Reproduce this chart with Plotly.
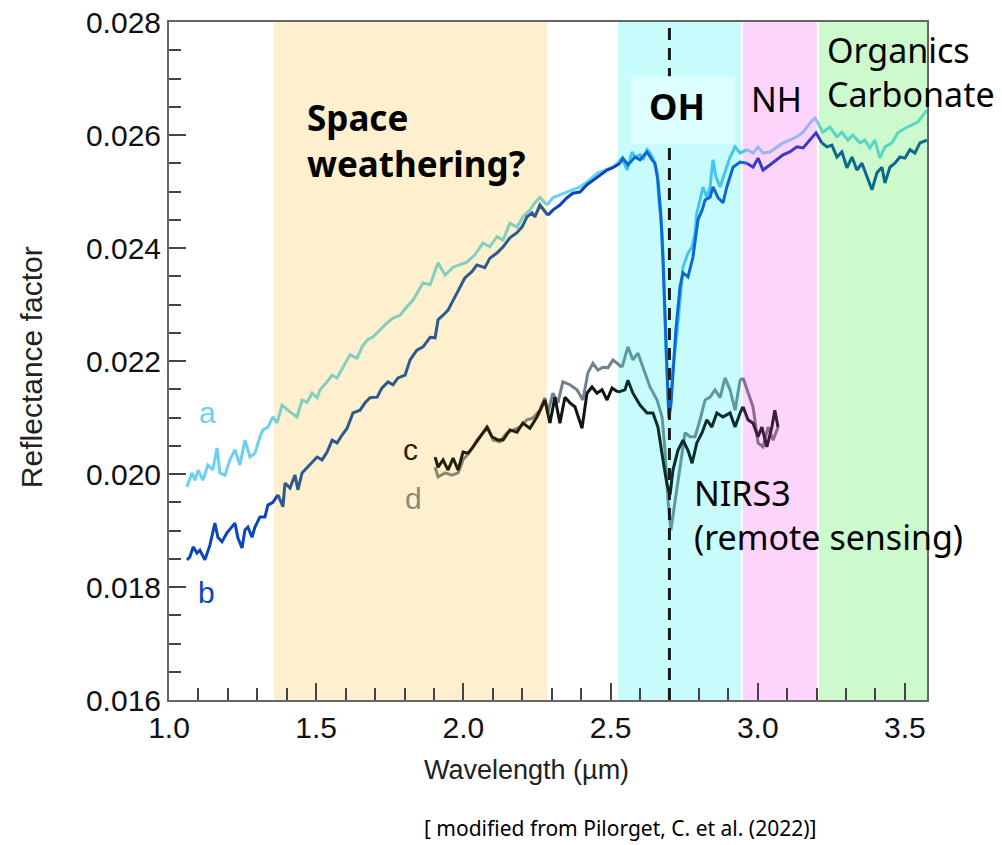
import plotly.graph_objects as go

# ---- spectra: wavelength (um) and reflectance factor ----
a_wl = [1.061, 1.078, 1.088, 1.099, 1.115, 1.132, 1.149, 1.163, 1.173, 1.190, 1.207, 1.224, 1.241, 1.258,
        1.275, 1.292, 1.309, 1.319, 1.336, 1.353, 1.367, 1.384, 1.411, 1.435, 1.452, 1.469, 1.486, 1.503,
        1.513, 1.537, 1.554, 1.571, 1.591, 1.615, 1.639, 1.656, 1.673, 1.693, 1.717, 1.740, 1.761, 1.785,
        1.808, 1.829, 1.863, 1.887, 1.914, 1.938, 1.965, 2.012, 2.039, 2.067, 2.090, 2.114, 2.135, 2.158,
        2.182, 2.202, 2.226, 2.243, 2.260, 2.284, 2.304, 2.328, 2.352, 2.372, 2.396, 2.420, 2.440, 2.457,
        2.481, 2.505, 2.525, 2.539, 2.556, 2.573, 2.583, 2.600, 2.610, 2.624, 2.634, 2.644, 2.658, 2.664,
        2.675, 2.681, 2.688, 2.695, 2.698, 2.705, 2.712, 2.726, 2.736, 2.746, 2.763, 2.777, 2.787, 2.793,
        2.804, 2.814, 2.827, 2.838, 2.848, 2.858, 2.872, 2.889, 2.906, 2.923, 2.940, 2.963, 2.984, 3.001,
        3.018, 3.041, 3.065, 3.086, 3.109, 3.133, 3.154, 3.177, 3.194, 3.205, 3.221, 3.245, 3.269, 3.286,
        3.306, 3.323, 3.347, 3.364, 3.381, 3.398, 3.415, 3.432, 3.456, 3.476, 3.500, 3.524, 3.544, 3.575]
a_val = [0.01977, 0.02002, 0.01989, 0.02007, 0.01989, 0.02016, 0.02007, 0.02046, 0.02002, 0.01998,
         0.02025, 0.02043, 0.02016, 0.02060, 0.02030, 0.02037, 0.02066, 0.02078, 0.02083, 0.02101,
         0.02090, 0.02122, 0.02110, 0.02101, 0.02131, 0.02127, 0.02143, 0.02135, 0.02149, 0.02163,
         0.02175, 0.02170, 0.02189, 0.02211, 0.02205, 0.02225, 0.02237, 0.02243, 0.02255, 0.02267,
         0.02276, 0.02281, 0.02296, 0.02308, 0.02338, 0.02335, 0.02374, 0.02352, 0.02366, 0.02375,
         0.02388, 0.02409, 0.02402, 0.02420, 0.02414, 0.02444, 0.02437, 0.02455, 0.02467, 0.02480,
         0.02490, 0.02476, 0.02489, 0.02494, 0.02499, 0.02503, 0.02508, 0.02517, 0.02526, 0.02533,
         0.02538, 0.02543, 0.02550, 0.02559, 0.02538, 0.02570, 0.02561, 0.02565, 0.02556, 0.02574,
         0.02568, 0.02559, 0.02533, 0.02485, 0.02427, 0.02356, 0.02220, 0.02143, 0.02108, 0.02131,
         0.02189, 0.02250, 0.02308, 0.02366, 0.02391, 0.02402, 0.02427, 0.02462, 0.02485, 0.02508,
         0.02490, 0.02508, 0.02556, 0.02526, 0.02508, 0.02533, 0.02561, 0.02579, 0.02568, 0.02574,
         0.02568, 0.02579, 0.02568, 0.02570, 0.02579, 0.02586, 0.02591, 0.02597, 0.02605, 0.02621,
         0.02630, 0.02621, 0.02605, 0.02614, 0.02597, 0.02605, 0.02591, 0.02600, 0.02586, 0.02591,
         0.02577, 0.02591, 0.02559, 0.02579, 0.02586, 0.02604, 0.02612, 0.02618, 0.02623, 0.02644]

b_wl = [1.061, 1.071, 1.082, 1.095, 1.105, 1.122, 1.139, 1.156, 1.166, 1.180, 1.197, 1.214, 1.224, 1.234,
        1.248, 1.258, 1.268, 1.282, 1.292, 1.309, 1.326, 1.336, 1.353, 1.370, 1.387, 1.394, 1.411, 1.428,
        1.438, 1.452, 1.469, 1.486, 1.503, 1.520, 1.537, 1.554, 1.571, 1.588, 1.605, 1.625, 1.649, 1.666,
        1.683, 1.707, 1.723, 1.744, 1.761, 1.778, 1.802, 1.819, 1.842, 1.863, 1.887, 1.904, 1.914, 1.931,
        1.948, 1.971, 1.988, 2.005, 2.029, 2.046, 2.073, 2.090, 2.114, 2.135, 2.158, 2.182, 2.199, 2.216,
        2.233, 2.243, 2.260, 2.287, 2.304, 2.328, 2.352, 2.372, 2.396, 2.420, 2.440, 2.464, 2.488, 2.508,
        2.532, 2.542, 2.559, 2.583, 2.600, 2.624, 2.641, 2.651, 2.661, 2.671, 2.678, 2.685, 2.692, 2.698,
        2.705, 2.712, 2.722, 2.736, 2.746, 2.763, 2.780, 2.797, 2.811, 2.821, 2.838, 2.848, 2.865, 2.882,
        2.895, 2.916, 2.940, 2.963, 2.984, 3.001, 3.018, 3.041, 3.065, 3.086, 3.109, 3.133, 3.154, 3.177,
        3.198, 3.218, 3.235, 3.252, 3.269, 3.286, 3.303, 3.320, 3.337, 3.354, 3.371, 3.388, 3.405, 3.422,
        3.432, 3.449, 3.466, 3.483, 3.500, 3.517, 3.534, 3.551, 3.575]
b_val = [0.01848, 0.01853, 0.01871, 0.01860, 0.01865, 0.01848, 0.01874, 0.01913, 0.01888, 0.01880,
         0.01896, 0.01906, 0.01913, 0.01887, 0.01869, 0.01901, 0.01906, 0.01888, 0.01906, 0.01924,
         0.01924, 0.01945, 0.01950, 0.01963, 0.01942, 0.01984, 0.01975, 0.01998, 0.01972, 0.02002,
         0.02011, 0.02021, 0.02030, 0.02025, 0.02039, 0.02060, 0.02055, 0.02069, 0.02081, 0.02108,
         0.02113, 0.02126, 0.02135, 0.02136, 0.02152, 0.02163, 0.02158, 0.02170, 0.02175, 0.02202,
         0.02219, 0.02225, 0.02242, 0.02241, 0.02273, 0.02281, 0.02290, 0.02313, 0.02331, 0.02347,
         0.02358, 0.02370, 0.02365, 0.02382, 0.02391, 0.02402, 0.02418, 0.02427, 0.02437, 0.02455,
         0.02462, 0.02455, 0.02476, 0.02458, 0.02467, 0.02476, 0.02489, 0.02497, 0.02499, 0.02512,
         0.02520, 0.02529, 0.02538, 0.02542, 0.02550, 0.02559, 0.02547, 0.02561, 0.02556, 0.02570,
         0.02556, 0.02550, 0.02520, 0.02458, 0.02379, 0.02273, 0.02166, 0.02099, 0.02122, 0.02184,
         0.02255, 0.02331, 0.02356, 0.02349, 0.02384, 0.02450, 0.02467, 0.02485, 0.02490, 0.02508,
         0.02489, 0.02480, 0.02508, 0.02543, 0.02552, 0.02550, 0.02543, 0.02559, 0.02538, 0.02547,
         0.02556, 0.02565, 0.02570, 0.02579, 0.02577, 0.02591, 0.02604, 0.02586, 0.02579, 0.02582,
         0.02561, 0.02570, 0.02542, 0.02561, 0.02538, 0.02550, 0.02526, 0.02503, 0.02533, 0.02543,
         0.02515, 0.02543, 0.02550, 0.02561, 0.02559, 0.02574, 0.02568, 0.02586, 0.02591]

c_wl = [1.904, 1.914, 1.931, 1.948, 1.965, 1.982, 1.999, 2.016, 2.033, 2.056, 2.080, 2.097, 2.118, 2.135,
        2.158, 2.182, 2.202, 2.226, 2.250, 2.277, 2.294, 2.311, 2.328, 2.345, 2.362, 2.379, 2.403, 2.420,
        2.437, 2.454, 2.471, 2.488, 2.505, 2.525, 2.549, 2.559, 2.576, 2.600, 2.624, 2.644, 2.661, 2.678,
        2.692, 2.702, 2.712, 2.729, 2.746, 2.763, 2.777, 2.793, 2.811, 2.827, 2.844, 2.861, 2.882, 2.906,
        2.923, 2.940, 2.950, 2.967, 2.984, 3.001, 3.014, 3.031, 3.048, 3.058, 3.069]
c_val = [0.02030, 0.02012, 0.02025, 0.02007, 0.02028, 0.02007, 0.02039, 0.02037, 0.02048, 0.02066,
         0.02083, 0.02066, 0.02060, 0.02060, 0.02078, 0.02074, 0.02090, 0.02081, 0.02101, 0.02131,
         0.02090, 0.02136, 0.02090, 0.02136, 0.02126, 0.02119, 0.02081, 0.02143, 0.02154, 0.02143,
         0.02149, 0.02131, 0.02152, 0.02145, 0.02149, 0.02166, 0.02143, 0.02122, 0.02108, 0.02108,
         0.02083, 0.02025, 0.01981, 0.01963, 0.02007, 0.02042, 0.02060, 0.02042, 0.02019, 0.02055,
         0.02073, 0.02096, 0.02083, 0.02108, 0.02101, 0.02108, 0.02083, 0.02108, 0.02119, 0.02096,
         0.02090, 0.02066, 0.02083, 0.02048, 0.02083, 0.02113, 0.02083]

d_wl = [1.904, 1.914, 1.938, 1.961, 1.982, 1.999, 2.022, 2.046, 2.067, 2.084, 2.101, 2.124, 2.148, 2.168,
        2.192, 2.216, 2.236, 2.260, 2.277, 2.287, 2.304, 2.321, 2.338, 2.362, 2.386, 2.406, 2.423, 2.440,
        2.457, 2.474, 2.491, 2.508, 2.539, 2.559, 2.576, 2.593, 2.610, 2.634, 2.658, 2.675, 2.685, 2.695,
        2.705, 2.719, 2.736, 2.753, 2.770, 2.787, 2.804, 2.821, 2.838, 2.855, 2.872, 2.889, 2.906, 2.923,
        2.940, 2.950, 2.967, 2.984, 3.001, 3.018, 3.035, 3.052, 3.069]
d_val = [0.02012, 0.01995, 0.02002, 0.01998, 0.02002, 0.02025, 0.02039, 0.02060, 0.02073, 0.02081,
         0.02060, 0.02057, 0.02073, 0.02078, 0.02083, 0.02096, 0.02099, 0.02113, 0.02135, 0.02108,
         0.02143, 0.02126, 0.02163, 0.02158, 0.02149, 0.02131, 0.02179, 0.02196, 0.02184, 0.02189,
         0.02188, 0.02202, 0.02189, 0.02225, 0.02202, 0.02214, 0.02189, 0.02154, 0.02131, 0.02101,
         0.02042, 0.01954, 0.01901, 0.01954, 0.02012, 0.02073, 0.02066, 0.02066, 0.02096, 0.02131,
         0.02136, 0.02149, 0.02135, 0.02170, 0.02149, 0.02113, 0.02166, 0.02170, 0.02145, 0.02119,
         0.02055, 0.02048, 0.02083, 0.02060, 0.02083]

# ---- absorption bands (um) ----
band_names = ["none", "weathering", "none", "OH", "NH", "organics"]
band_lo = [1.000, 1.357, 2.284, 2.525, 2.946, 3.204]
band_hi = [1.357, 2.284, 2.525, 2.946, 3.204, 3.575]
band_fill = {"weathering": "#fef0ce", "OH": "#c8fcfc", "NH": "#fcd4fc", "organics": "#ccfacc"}
oh_center = 2.70

# line colour of each spectrum as it appears over each band
seg_colors = {
    "a": {"none": "#6cd0f2", "weathering": "#82cfc0", "OH": "#44c4f0", "NH": "#98b6f2", "organics": "#58d6c4"},
    "b": {"none": "#0a46b8", "weathering": "#2c5a8e", "OH": "#0e68d2", "NH": "#3a3cc0", "organics": "#0a6a8c"},
    "c": {"none": "#141414", "weathering": "#261e0a", "OH": "#0c2c2c", "NH": "#3c1c3c", "organics": "#0c2c2c"},
    "d": {"none": "#72808e", "weathering": "#848774", "OH": "#5c9aa2", "NH": "#8c6c92", "organics": "#5c9aa2"},
}

series = {"a": (a_wl, a_val), "b": (b_wl, b_val), "c": (c_wl, c_val), "d": (d_wl, d_val)}

fig = go.Figure()

# each spectrum is drawn band by band so its colour follows the band tint
for key in ["d", "c", "a", "b"]:
    wl, val = series[key]
    for name, lo, hi in zip(band_names, band_lo, band_hi):
        idx = [i for i, w in enumerate(wl) if lo <= w < hi]
        if not idx:
            continue
        if idx[-1] + 1 < len(wl):
            idx.append(idx[-1] + 1)
        fig.add_trace(go.Scatter(
            x=[wl[i] for i in idx], y=[val[i] for i in idx], mode="lines",
            line=dict(color=seg_colors[key][name], width=3),
            hoverinfo="skip", showlegend=False))

# shaded bands
shapes = []
for name, lo, hi in zip(band_names, band_lo, band_hi):
    if name in band_fill:
        shapes.append(dict(type="rect", xref="x", yref="y", x0=lo, x1=hi, y0=0.016, y1=0.028,
                           fillcolor=band_fill[name], line=dict(width=0), layer="below"))
for edge in [band_lo[4], band_lo[5]]:
    shapes.append(dict(type="line", xref="x", yref="y", x0=edge, x1=edge, y0=0.016, y1=0.028,
                       line=dict(color="white", width=2), layer="below"))
# OH band centre
shapes.append(dict(type="line", xref="x", yref="y", x0=oh_center, x1=oh_center, y0=0.016, y1=0.028,
                   line=dict(color="#1a1a1a", width=3, dash="12px,8px"), layer="above"))
# label box behind "OH"
shapes.append(dict(type="rect", xref="x", yref="y", x0=2.569, x1=2.923, y0=0.02584, y1=0.02704,
                   fillcolor="#dcfefe", line=dict(width=0), layer="above"))

label_font = "Noto Sans, Open Sans, sans-serif"
axis_font = "Liberation Sans, Arial, Helvetica, sans-serif"

annotations = [
    dict(x=1.462, y=0.02590, text="<b>Space<br>weathering?</b>", align="left",
         font=dict(family=label_font, size=35, color="black"),
         xanchor="left", yanchor="middle", showarrow=False),
    dict(x=2.727, y=0.02650, text="<b>OH</b>", font=dict(family=label_font, size=36, color="black"),
         xanchor="center", yanchor="middle", showarrow=False),
    dict(x=2.970, y=0.02663, text="NH", font=dict(family=label_font, size=34, color="black"),
         xanchor="left", yanchor="middle", showarrow=False),
    dict(x=3.228, y=0.02712, text="Organics<br>Carbonate", align="left",
         font=dict(family=label_font, size=34, color="black"),
         xanchor="left", yanchor="middle", showarrow=False),
    dict(x=2.776, y=0.01927, text="NIRS3<br>(remote sensing)", align="left",
         font=dict(family=label_font, size=34, color="black"),
         xanchor="left", yanchor="middle", showarrow=False),
    dict(x=1.132, y=0.02108, text="a", font=dict(family=axis_font, size=30, color="#6cd0f2"),
         xanchor="center", yanchor="middle", showarrow=False),
    dict(x=1.129, y=0.01791, text="b", font=dict(family=axis_font, size=30, color="#0a46b8"),
         xanchor="center", yanchor="middle", showarrow=False),
    dict(x=1.819, y=0.02043, text="c", font=dict(family=axis_font, size=30, color="#2a220c"),
         xanchor="center", yanchor="middle", showarrow=False),
    dict(x=1.829, y=0.01956, text="d", font=dict(family=axis_font, size=30, color="#868a7a"),
         xanchor="center", yanchor="middle", showarrow=False),
    # axis titles and source note
    dict(xref="paper", yref="paper", x=-0.182, y=0.491, text="Reflectance factor", textangle=-90,
         font=dict(family=axis_font, size=30, color="#222"), showarrow=False,
         xanchor="center", yanchor="middle"),
    dict(xref="paper", yref="paper", x=0.472, y=-0.103, text="Wavelength (µm)",
         font=dict(family=axis_font, size=27, color="#222"), showarrow=False,
         xanchor="center", yanchor="middle"),
    dict(xref="paper", yref="paper", x=0.595, y=-0.189, text="[ modified from Pilorget, C. et al. (2022)]",
         font=dict(family=label_font, size=21, color="black"), showarrow=False,
         xanchor="center", yanchor="middle"),
]

tick_style = dict(ticks="inside", tickcolor="#444", tickwidth=1.5, ticklen=17,
                  showline=True, linecolor="#666", linewidth=2, mirror=True,
                  showgrid=False, zeroline=False, automargin=False,
                  tickfont=dict(family=axis_font, size=30, color="#111"))

fig.update_layout(
    width=1002, height=845, autosize=False,
    margin=dict(l=169, r=75, t=22, b=145),
    paper_bgcolor="white", plot_bgcolor="white",
    shapes=shapes, annotations=annotations, showlegend=False,
    xaxis=dict(range=[1.0, 3.575], tick0=1.0, dtick=0.5, tickformat=".1f",
               minor=dict(ticks="inside", ticklen=12, tick0=1.0, dtick=0.1, tickcolor="#444", tickwidth=1.5),
               **tick_style),
    yaxis=dict(range=[0.016, 0.028], tick0=0.016, dtick=0.002, tickformat=".3f",
               minor=dict(ticks="inside", ticklen=12, tick0=0.016, dtick=0.0005, tickcolor="#444", tickwidth=1.5),
               **tick_style),
)

fig.write_html("out.html")
